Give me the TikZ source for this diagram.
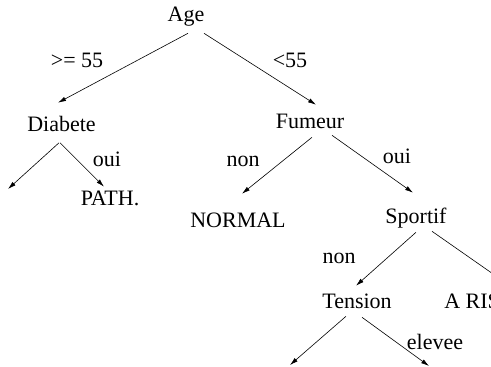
\documentclass[tikz,border=0pt]{standalone}
\usepackage{fontspec}
\setmainfont{Liberation Serif}
\usetikzlibrary{positioning,calc,arrows.meta}

\begin{document}
\begin{tikzpicture}[x=1pt, y=-1pt, >={Latex[length=8pt,width=4.5pt]}, line width=0.6pt]
	\useasboundingbox (0,0) rectangle (491,367);
	\tikzstyle{every node}=[anchor=base, inner sep=0pt, text height=15pt, text depth=0pt,
		font=\fontsize{22}{26}\selectfont]
	% tree nodes (baselines)
	\node (age) at (186, 21) {Age};
	\node (diab) at (61.5, 131.5) {Diabete};
	\node (fum) at (310, 128) {Fumeur};
	\node (path) at (110, 205) {PATH.};
	\node (norm) at (238, 227) {NORMAL};
	\node (sport) at (416, 223) {Sportif};
	\node (tens) at (357, 308) {Tension};
	\node[anchor=base west] (risk) at (444, 308) {A RIS};
	\coordinate (leafa) at (8, 189);
	\coordinate (leafb) at (290, 365);
	\coordinate (leafc) at (429, 366);
	\coordinate (riskin) at (506, 283);
	% branch labels
	\node (ge) at (77, 67) {>= 55};
	\node (lt) at (290, 67) {<55};
	\node (dyes) at (107, 166) {oui};
	\node (fno) at (243, 166) {non};
	\node (fyes) at (397, 163) {oui};
	\node (sno) at (339, 263) {non};
	\node (high) at (435, 349) {elevee};

	\draw[->] ([shift={(2,12)}]age.south) to ([shift={(-3.5,-13.5)}]diab.north);
	\draw[->] ([shift={(18,12)}]age.south) to ([shift={(6,-8)}]fum.north);
	\draw[->] ([shift={(-2.5,11)}]diab.south) to (leafa);
	\draw[->] ([shift={(-1.5,11)}]diab.south) to ([shift={(-6,-3)}]path.north);
	\draw[->] ([shift={(2,9)}]fum.south) to ([shift={(4,-18)}]norm.north);
	\draw[->] ([shift={(22,7)}]fum.south) to ([shift={(-3,-15)}]sport.north);
	\draw[->] ([shift={(0,9)}]sport.south) to ([shift={(-1,-7)}]tens.north);
	\draw[->] ([shift={(16,8)}]sport.south) to (riskin);
	\draw[->] ([shift={(-11,8)}]tens.south) to (leafb);
	\draw[->] ([shift={(5,9)}]tens.south) to (leafc);
\end{tikzpicture}
\end{document}
